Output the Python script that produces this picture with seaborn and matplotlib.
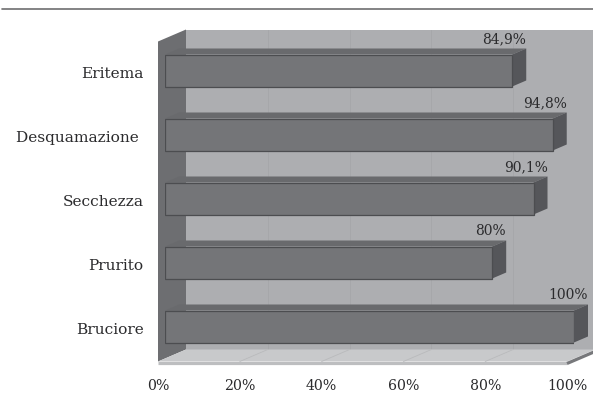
import matplotlib
matplotlib.use("Agg")
import matplotlib.pyplot as plt
from matplotlib.lines import Line2D
from matplotlib.patches import Polygon
from matplotlib.transforms import Affine2D
import seaborn as sns

symptoms = ["Eritema", "Desquamazione ", "Secchezza", "Prurito", "Bruciore"]
percentages = [84.9, 94.8, 90.1, 80, 100]
value_labels = ["84,9%", "94,8%", "90,1%", "80%", "100%"]
axis_ticks = [0, 20, 40, 60, 80, 100]
axis_labels = ["0%", "20%", "40%", "60%", "80%", "100%"]

FRONT = "#747578"
TOP = "#696a6d"
SIDE = "#55565a"
EDGE = "#4c4d50"
WALL = "#adaeb1"
LEFT_WALL = "#6d6e71"
FLOOR = "#c8c9cb"
GRID = "#a5a6a9"
TEXT = "#2b2b2d"

sns.set_theme(style="white")
plt.rcParams["font.family"] = ["DejaVu Serif"]

W, H = 593, 394
fig = plt.figure(figsize=(W / 100, H / 100), dpi=100, facecolor="white")
ax = fig.add_axes([165 / W, 1 - 358.5 / H, 409 / W, 320 / H])


def shifted(dx, dy):
    """Data transform displaced by a pixel offset (dy counted upward)."""
    return ax.transData + Affine2D().translate(dx, dy)


sns.barplot(x=percentages, y=symptoms, color=FRONT, saturation=1, width=0.5,
            edgecolor=EDGE, linewidth=0.9, ax=ax, zorder=5)
ax.set_xlim(0, 100)
ax.set_ylim(4.5, -0.5)
ax.set_xlabel("")
ax.set_ylabel("")
ax.patch.set_alpha(0)
sns.despine(ax=ax, left=True, bottom=True)

# Pixel depth of the box walls and of the bars
BACK = (21, 9)
FRONT_EDGE = (-7, -3)
BAR_DEPTH = (14, 6)
y_top, y_bottom = -0.5, 4.5
fig.canvas.draw()
to_px = ax.transData


def box_poly(points, color, zorder=1, **kw):
    # points: (x value, y value, use back offset?)
    verts = []
    for x, y, back in points:
        off = BACK if back else FRONT_EDGE
        px = to_px.transform((x, y))
        verts.append((px[0] + off[0], px[1] + off[1]))
    ax.add_patch(Polygon(verts, closed=True, facecolor=color, edgecolor="none",
                         transform=None, clip_on=False, zorder=zorder, **kw))


# Back wall, running off the right edge of the canvas
box_poly([(0, y_top, True), (100, y_top, True), (100, y_bottom, True), (0, y_bottom, True)], WALL)
# Left wall
box_poly([(0, y_top, False), (0, y_top, True), (0, y_bottom, True), (0, y_bottom, False)], LEFT_WALL, zorder=2)
# Floor
box_poly([(0, y_bottom, False), (0, y_bottom, True), (100, y_bottom, True), (100, y_bottom, False)], FLOOR, zorder=2)

# Grid lines up the back wall and across the floor
for tick in axis_ticks[1:-1]:
    ax.plot([tick, tick], [y_top, y_bottom], transform=shifted(*BACK), color=GRID,
            lw=0.6, clip_on=False, zorder=1.5)
    a = to_px.transform((tick, y_bottom))
    ax.add_line(Line2D([a[0] + FRONT_EDGE[0], a[0] + BACK[0]], [a[1] + FRONT_EDGE[1], a[1] + BACK[1]],
                       transform=None, color="#b9babc", lw=0.6, clip_on=False, zorder=2.5))

# Front lip of the floor
x0 = to_px.transform((0, y_bottom))
x1 = to_px.transform((100, y_bottom))
ax.add_line(Line2D([x0[0] - 7, x1[0] - 7], [x0[1] - 4.6, x1[1] - 4.6], transform=None,
                   color="#bdbec0", lw=2.3, solid_capstyle="butt", clip_on=False, zorder=3))
ax.add_line(Line2D([x1[0] - 7, x1[0] + 21], [x1[1] - 5, x1[1] + 7], transform=None,
                   color="#77787b", lw=2.3, solid_capstyle="butt", clip_on=False, zorder=3))

# Depth faces of each bar
half = 0.25
for row, (value, label) in enumerate(zip(percentages, value_labels)):
    a = to_px.transform((0, row - half))
    b = to_px.transform((value, row - half))
    c = to_px.transform((value, row + half))
    dx, dy = BAR_DEPTH
    top = [tuple(a), tuple(b), (b[0] + dx, b[1] + dy), (a[0] + dx, a[1] + dy)]
    side = [tuple(b), tuple(c), (c[0] + dx, c[1] + dy), (b[0] + dx, b[1] + dy)]
    ax.add_patch(Polygon(top, closed=True, facecolor=TOP, edgecolor="none",
                         transform=None, clip_on=False, zorder=4))
    ax.add_patch(Polygon(side, closed=True, facecolor=SIDE, edgecolor="none",
                         transform=None, clip_on=False, zorder=4))
    ax.text(value, row - half, label, transform=shifted(dx, dy + 2.5), ha="right", va="bottom",
            fontsize=10, color=TEXT, zorder=6, clip_on=False)

# Tick labels
ax.set_xticks(axis_ticks)
ax.set_xticklabels(axis_labels, fontsize=10.2, color=TEXT)
ax.tick_params(axis="x", length=0, pad=14.8)
ax.tick_params(axis="y", length=0, pad=15.5, labelsize=11.1, labelcolor=TEXT)
for lab in ax.get_xticklabels():
    lab.set_transform(lab.get_transform() + Affine2D().translate(-7, 0))
for lab in ax.get_yticklabels():
    lab.set_transform(lab.get_transform() + Affine2D().translate(0, -2))

# Rule across the top of the page
fig.add_artist(Line2D([2 / W, 1], [1 - 9 / H, 1 - 9 / H], color="#6e6e70", lw=1.2))

fig.savefig("out.png", dpi=100, facecolor="white")
